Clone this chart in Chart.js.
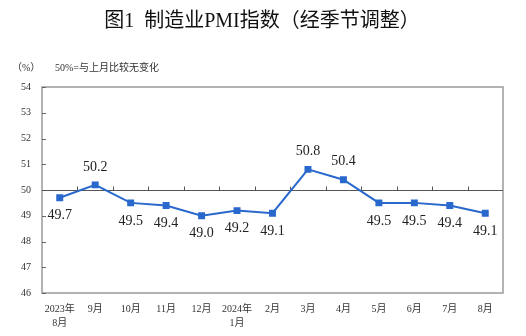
<!DOCTYPE html>
<html>
<head>
<meta charset="utf-8">
<script src="https://cdn.jsdelivr.net/npm/chart.js@4/dist/chart.umd.min.js"></script>
<style>
  html, body { margin: 0; padding: 0; background: #fff; }
  #wrap { width: 526px; height: 336px; }
</style>
</head>
<body>
<div id="wrap"><canvas id="pmi" width="526" height="336"></canvas></div>
<script>
const months = [
  ['2023年', '8月'], '9月', '10月', '11月', '12月', ['2024年', '1月'],
  '2月', '3月', '4月', '5月', '6月', '7月', '8月'
];
const pmiValues = [49.7, 50.2, 49.5, 49.4, 49.0, 49.2, 49.1, 50.8, 50.4, 49.5, 49.5, 49.4, 49.1];
const yTicks = [46, 47, 48, 49, 50, 51, 52, 53, 54];

const SERIF = "'Liberation Serif', 'Times New Roman', 'Noto Sans CJK SC', serif";
const LINE_COLOR = '#2968cc';

// title, unit note, the 50 baseline, inner tick marks, value labels
const decorations = {
  id: 'decorations',
  beforeDatasetsDraw(chart) {
    const { ctx, chartArea: a, scales } = chart;
    const y = scales.y, x = scales.x;
    ctx.save();
    // plot frame
    ctx.strokeStyle = '#9a9a9a';
    ctx.lineWidth = 1.5;
    ctx.strokeRect(a.left, a.top, a.right - a.left, a.bottom - a.top);
    // y ticks pointing inward
    ctx.strokeStyle = '#666';
    ctx.lineWidth = 1;
    yTicks.forEach(v => {
      const py = Math.round(y.getPixelForValue(v)) + 0.5;
      ctx.beginPath();
      ctx.moveTo(a.left, py);
      ctx.lineTo(a.left + 4, py);
      ctx.stroke();
    });
    // 50 baseline with category boundary ticks
    const base = Math.round(y.getPixelForValue(50)) + 0.5;
    ctx.strokeStyle = '#555';
    ctx.beginPath();
    ctx.moveTo(a.left, base);
    ctx.lineTo(a.right, base);
    ctx.stroke();
    for (let i = 1; i < months.length; i++) {
      const px = Math.round((x.getPixelForValue(i - 1) + x.getPixelForValue(i)) / 2) + 0.5;
      ctx.beginPath();
      ctx.moveTo(px, base);
      ctx.lineTo(px, base - 4);
      ctx.stroke();
    }
    ctx.restore();
  },
  afterDatasetsDraw(chart) {
    const { ctx } = chart;
    const meta = chart.getDatasetMeta(0);
    ctx.save();
    ctx.font = '14px ' + SERIF;
    ctx.fillStyle = '#222';
    ctx.textAlign = 'center';
    ctx.textBaseline = 'middle';
    meta.data.forEach((pt, i) => {
      const v = pmiValues[i];
      const dy = v > 50 ? -18 : 18;
      ctx.fillText(v.toFixed(1), pt.x, pt.y + dy);
    });
    ctx.restore();
  },
  afterDraw(chart) {
    const { ctx } = chart;
    ctx.save();
    ctx.fillStyle = '#111';
    ctx.textBaseline = 'middle';
    ctx.textAlign = 'center';
    ctx.font = "20px 'Liberation Serif', 'Noto Sans CJK SC', serif";
    ctx.fillText('图1  制造业PMI指数（经季节调整）', 262, 22);
    ctx.textAlign = 'left';
    ctx.font = '10px ' + SERIF;
    ctx.fillStyle = '#333';
    ctx.fillText('（%）', 12, 68);
    ctx.fillText('50%=与上月比较无变化', 55, 68);
    ctx.restore();
  }
};

new Chart(document.getElementById('pmi'), {
  type: 'line',
  data: {
    labels: months,
    datasets: [{
      data: pmiValues,
      borderColor: LINE_COLOR,
      backgroundColor: LINE_COLOR,
      borderWidth: 2,
      pointStyle: 'rect',
      pointRadius: 3.5,
      pointHoverRadius: 3.5,
      tension: 0,
      clip: false
    }]
  },
  options: {
    responsive: false,
    animation: false,
    events: [],
    layout: { padding: { top: 87, right: 23, left: 0, bottom: 0 } },
    plugins: { legend: { display: false }, tooltip: { enabled: false } },
    scales: {
      x: {
        offset: true,
        grid: { display: false, drawTicks: false },
        border: { display: false },
        ticks: {
          autoSkip: false,
          maxRotation: 0,
          padding: 9,
          color: '#333',
          font: { family: SERIF, size: 10, lineHeight: 1.4 }
        },
        afterFit(scale) { scale.height = 43; }
      },
      y: {
        min: 46,
        max: 54,
        afterBuildTicks(scale) { scale.ticks = yTicks.map(v => ({ value: v })); },
        grid: { display: false, drawTicks: false },
        border: { display: false },
        ticks: {
          padding: 11,
          color: '#333',
          font: { family: SERIF, size: 10 }
        },
        afterFit(scale) { scale.width = 42; }
      }
    }
  },
  plugins: [decorations]
});
</script>
</body>
</html>
